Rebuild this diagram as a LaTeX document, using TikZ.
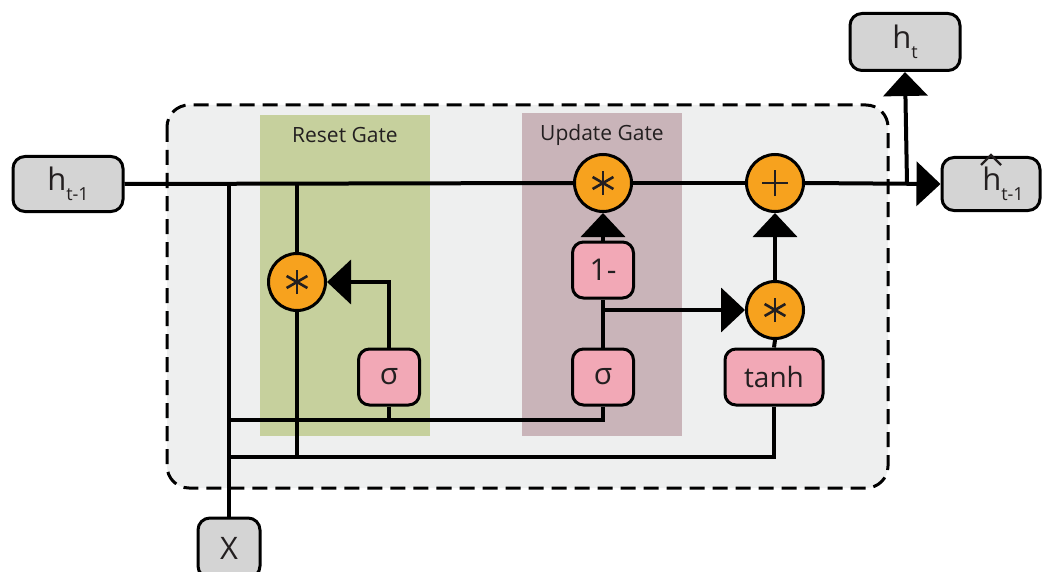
\documentclass[tikz,border=0pt]{standalone}
\usepackage{fontspec}
\setmainfont{Open Sans}
\usetikzlibrary{arrows.meta}

\definecolor{cellbg}{RGB}{238,239,239}
\definecolor{resetbg}{RGB}{198,208,157}
\definecolor{updatebg}{RGB}{201,180,185}
\definecolor{opfill}{RGB}{247,162,30}
\definecolor{fnfill}{RGB}{242,168,182}
\definecolor{iofill}{RGB}{212,212,212}
\definecolor{ink}{RGB}{35,31,32}

\newcommand{\lowidx}[1]{\raisebox{-10pt}{\fontsize{18pt}{18pt}\selectfont #1}}

\begin{document}
\begin{tikzpicture}[x=1pt,y=-1pt,
  wire/.style={line width=4pt,draw=black},
  arr/.style={wire,-{Triangle[length=24pt,width=44pt]}},
  iobox/.style={draw=black,line width=3pt,fill=iofill,rounded corners=12pt,
    inner sep=0pt,text=ink,font=\fontsize{31pt}{31pt}\selectfont},
  fnbox/.style={draw=black,line width=3pt,fill=fnfill,rounded corners=11pt,
    inner sep=0pt,minimum height=56pt,text=ink,font=\fontsize{30pt}{30pt}\selectfont},
  opcirc/.style={circle,draw=black,line width=3pt,fill=opfill,inner sep=0pt,minimum size=57pt},
  gatelabel/.style={text=ink,font=\fontsize{21pt}{21pt}\selectfont},
  opmark/.style={line width=2.6pt,draw=ink},
  hatmark/.style={line width=2.2pt,draw=ink,line join=miter}
]
\useasboundingbox (0,0) rectangle (1043,572);

% cell outline and gate panels
\draw[fill=cellbg,line width=3pt,dash pattern=on 15pt off 8pt,rounded corners=22pt]
  (167,105) rectangle (888,488);
\fill[resetbg] (260,115) rectangle (430,436);
\fill[updatebg] (522,113) rectangle (682,436);
\node[gatelabel] (rlabel) at (345,135) {Reset Gate};
\node[gatelabel] (ulabel) at (602,135) {Update Gate};

% inputs and outputs
\node[iobox,minimum width=110pt,minimum height=55pt] (hprev) at (68,184) {h\lowidx{t-1}};
\node[iobox,minimum width=110pt,minimum height=57pt] (ht) at (905,42) {h\lowidx{t}};
\node[iobox,minimum width=98pt,minimum height=53pt] (hhat) at (991,184) {\hspace*{24pt}h\lowidx{t-1}};
\node[iobox,minimum width=62pt,minimum height=60pt] (xin) at (229,548) {X};
% hat over the output h
\draw[hatmark] ([xshift=-10pt,yshift=19pt]hhat.center) -- ([xshift=0pt,yshift=29pt]hhat.center)
  -- ([xshift=10pt,yshift=19pt]hhat.center);

% functions
\node[fnbox,minimum width=61pt] (rsig) at (389,377) {σ};
\node[fnbox,minimum width=61pt] (usig) at (603,377) {σ};
\node[fnbox,minimum width=61pt] (one) at (603,270) {1-};
\node[fnbox,minimum width=98pt,font=\fontsize{28pt}{28pt}\selectfont] (tanh) at (774,377) {tanh};

% pointwise operations
\node[opcirc] (rstar) at (297,282) {};
\node[opcirc] (ustar) at (603,183) {};
\node[opcirc] (plus) at (775,183) {};
\node[opcirc] (mstar) at (775,310) {};

% junctions
\coordinate (jx) at (229,183);
\coordinate (jr) at (297,183);
\coordinate (jout) at (907,183);
\coordinate (b1) at (229,420);
\coordinate (b2) at (229,457);
\coordinate (ub) at (603,310);

% connectors
\draw[wire] (hprev.east) -- (ustar.west);
\draw[wire] (ustar.east) -- (plus.west);
\draw[arr] (plus.east) -- (hhat.west);
\draw[arr] (jout) -- (ht.south);
\draw[wire] (xin.north) -- (jx);
\draw[wire] (jr) -- (rstar.north);
\draw[wire] (rstar.south) -- (rstar.south |- b2);
\draw[wire] (b1) -| (usig.south);
\draw[wire] (rsig.south) -- (rsig.south |- b1);
\draw[wire] (b2) -| (tanh.south);
\draw[arr] (rsig.north) |- (rstar.east);
\draw[wire] (usig.north) -- (one.south);
\draw[arr] (ub) -- (mstar.west);
\draw[arr] (one.north) -- (ustar.south);
\draw[wire] (tanh.north) -- (mstar.south);
\draw[arr] (mstar.north) -- (plus.south);

% operation marks
\foreach \n in {rstar,ustar,mstar}
  \foreach \a in {90,30,150}
    \draw[opmark] ([shift={(\a:12)}]\n.center) -- ([shift={(\a+180:12)}]\n.center);
\draw[opmark] ([xshift=-13pt]plus.center) -- ([xshift=13pt]plus.center);
\draw[opmark] ([yshift=-13pt]plus.center) -- ([yshift=13pt]plus.center);
\end{tikzpicture}
\end{document}
